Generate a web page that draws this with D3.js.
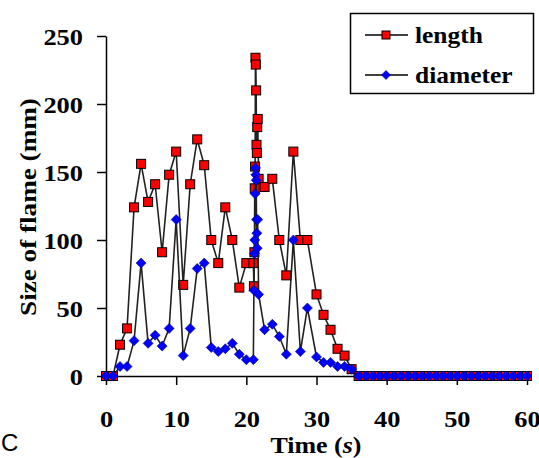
<!DOCTYPE html>
<html>
<head>
<meta charset="utf-8">
<script src="https://cdn.jsdelivr.net/npm/d3@7"></script>
<style>
  html, body { margin: 0; padding: 0; background: #fff; }
  svg { display: block; }
</style>
</head>
<body>
<svg id="chart" width="539" height="458"></svg>
<script>
// Flame size measurements over time
const times = [
  0, 1, 2, 3, 4, 5, 6, 7, 8, 9, 10, 11, 12, 13, 14, 15, 16, 17, 18, 19, 20, 21,
  21.08, 21.15, 21.2, 21.25, 21.3, 21.35, 21.4, 21.45, 21.5, 21.55, 21.62, 21.75,
  22.6, 23.7, 24.7, 25.7, 26.7, 27.7, 28.7, 30, 31, 32, 33, 34, 35,
  36, 37, 38, 39, 40, 41, 42, 43, 44, 45, 46, 47, 48, 49, 50,
  51, 52, 53, 54, 55, 56, 57, 58, 59, 60
];
const lengthValues = [
  0, 0, 23, 35, 124, 156, 128, 141, 91, 148, 165, 67, 141, 174, 155, 100, 83, 124, 100, 65, 83, 83,
  66, 91, 138, 154, 234, 229, 210, 170, 164, 183, 189, 145,
  139, 145, 100, 74, 165, 100, 100, 60, 45, 34, 20, 15, 5,
  0, 0, 0, 0, 0, 0, 0, 0, 0, 0, 0, 0, 0, 0, 0,
  0, 0, 0, 0, 0, 0, 0, 0, 0, 0
];
const diameterValues = [
  0, 0, 7, 7, 26, 83, 24, 30, 22, 35, 115, 15, 35, 79, 83, 21, 18, 20, 24, 16, 12, 12,
  63, 90, 100, 134, 153, 148, 144, 115, 105, 94, 115, 60,
  34, 38, 29, 16, 100, 18, 50, 14, 10, 10, 7, 7, 5,
  0, 0, 0, 0, 0, 0, 0, 0, 0, 0, 0, 0, 0, 0, 0,
  0, 0, 0, 0, 0, 0, 0, 0, 0, 0
];
const seriesNames = ["length", "diameter"];
const xTicks = [0, 10, 20, 30, 40, 50, 60];
const yTicks = [0, 50, 100, 150, 200, 250];

const SERIF = "Liberation Serif";

const svg = d3.select("#chart");

const x = d3.scaleLinear().domain([0, 60]).range([106, 527]);
const y = d3.scaleLinear().domain([0, 250]).range([376, 36]);

// serif bold text, optionally widened along its baseline
function serif(sel, size) {
  return sel.attr("font-family", SERIF)
    .attr("font-weight", "bold").attr("font-size", size).attr("fill", "#000");
}
function widen(sel, factor) {
  sel.each(function () {
    const w = this.getComputedTextLength();
    d3.select(this).attr("textLength", w * factor).attr("lengthAdjust", "spacingAndGlyphs");
  });
}

// axes
const gx = svg.append("g").attr("transform", `translate(0,${y(0)})`)
  .call(d3.axisBottom(x).tickValues(xTicks).tickSize(9).tickSizeOuter(0).tickFormat(d3.format("d")));
const gy = svg.append("g").attr("transform", `translate(${x(0)},0)`)
  .call(d3.axisLeft(y).tickValues(yTicks).tickSize(9).tickSizeOuter(0).tickFormat(d3.format("d")));

[gx, gy].forEach(g => {
  g.attr("font-family", SERIF);
  g.select(".domain").attr("stroke", "#000").attr("stroke-width", 1.5);
  g.selectAll(".tick line").attr("stroke", "#000").attr("stroke-width", 1.5);
  serif(g.selectAll(".tick text"), 24);
});
gx.selectAll(".tick text").attr("dy", null).attr("y", 51);
gy.selectAll(".tick text").attr("x", -23).attr("dy", "0.35em");
widen(gx.selectAll(".tick text"), 1.1);
widen(gy.selectAll(".tick text"), 1.1);

// axis titles
const xt = serif(svg.append("text"), 24).attr("x", 316).attr("y", 453)
  .attr("text-anchor", "middle");
xt.append("tspan").text("Time (");
xt.append("tspan").attr("font-style", "italic").text("s");
xt.append("tspan").text(")");
widen(xt, 1.08);

const yt = serif(svg.append("text"), 23)
  .attr("transform", "translate(28,207) rotate(-90)")
  .attr("text-anchor", "middle").attr("dy", "0.35em")
  .text("Size of flame (mm)");
widen(yt, 1.18);

// series
const lengthPts = times.map((t, i) => [t, lengthValues[i]]);
const diameterPts = times.map((t, i) => [t, diameterValues[i]]);
const line = d3.line().x(d => x(d[0])).y(d => y(d[1]));

const diamond = r => `M0,${-r}L${r},0L0,${r}L${-r},0Z`;

svg.append("path").datum(lengthPts).attr("d", line)
  .attr("fill", "none").attr("stroke", "#222").attr("stroke-width", 1.6);
svg.append("g").selectAll("rect").data(lengthPts).join("rect")
  .attr("x", d => x(d[0]) - 4.5).attr("y", d => y(d[1]) - 4.5)
  .attr("width", 9).attr("height", 9)
  .attr("fill", "#ff0000").attr("stroke", "#000").attr("stroke-width", 1);

svg.append("path").datum(diameterPts).attr("d", line)
  .attr("fill", "none").attr("stroke", "#222").attr("stroke-width", 1.6);
svg.append("g").selectAll("path").data(diameterPts).join("path")
  .attr("transform", d => `translate(${x(d[0])},${y(d[1])})`)
  .attr("d", diamond(5))
  .attr("fill", "#0000ff").attr("stroke", "#000080").attr("stroke-width", 0.6);

// legend
const lg = svg.append("g");
lg.append("rect").attr("x", 350.5).attr("y", 13.5).attr("width", 183).attr("height", 80)
  .attr("fill", "#fff").attr("stroke", "#000").attr("stroke-width", 1.5);
const rows = [35, 75];
rows.forEach((ry, i) => {
  lg.append("line").attr("x1", 365).attr("x2", 408).attr("y1", ry).attr("y2", ry)
    .attr("stroke", "#000").attr("stroke-width", 1.6);
  if (i === 0) {
    lg.append("rect").attr("x", 382).attr("y", ry - 4).attr("width", 8).attr("height", 8)
      .attr("fill", "#ff0000").attr("stroke", "#000").attr("stroke-width", 1);
  } else {
    lg.append("path").attr("transform", `translate(386,${ry})`).attr("d", diamond(4.5))
      .attr("fill", "#0000ff").attr("stroke", "#000080").attr("stroke-width", 0.6);
  }
  const t = serif(lg.append("text"), 24).attr("x", 415).attr("y", ry + 8).text(seriesNames[i]);
  widen(t, 1.06);
});

// panel letter
svg.append("text").attr("x", 1).attr("y", 451)
  .attr("font-family", "Liberation Sans")
  .attr("font-size", 24).attr("fill", "#000").text("C");
</script>
</body>
</html>
